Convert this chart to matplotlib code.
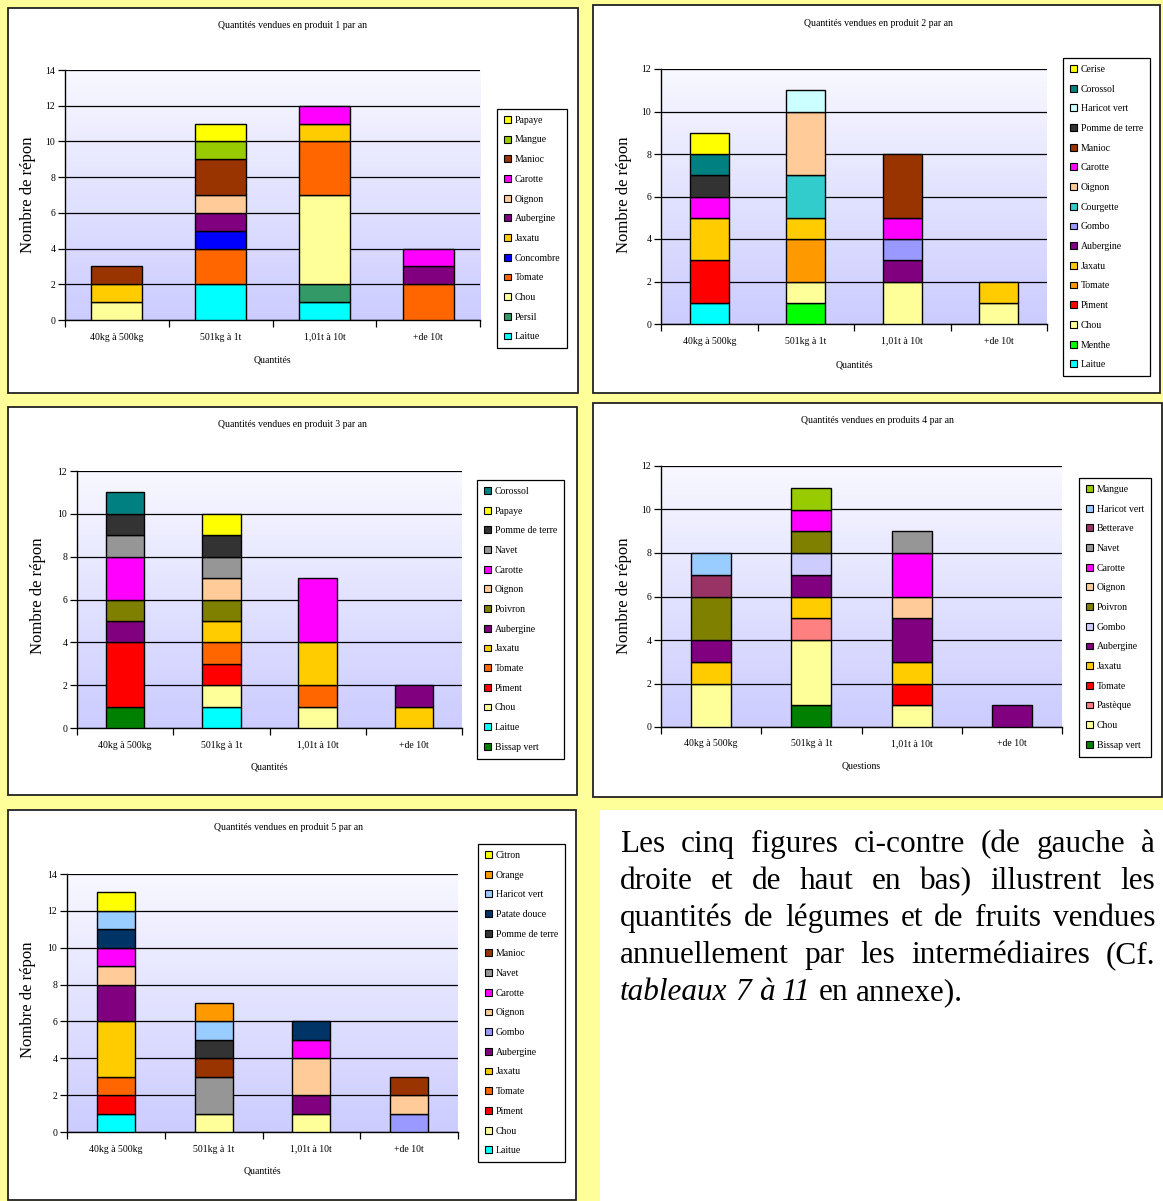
import numpy as np
import matplotlib
matplotlib.use('Agg')
import matplotlib.pyplot as plt
from matplotlib.patches import Rectangle
from matplotlib.colors import LinearSegmentedColormap

plt.rcParams['font.family'] = ['Liberation Serif', 'DejaVu Serif']

W, H = 1163, 1201

cats = ['40kg à 500kg', '501kg à 1t', '1,01t à 10t', '+de 10t']

# produit 1 (series listed bottom -> top of the stack)
p1_names = ['Laitue', 'Persil', 'Chou', 'Tomate', 'Concombre', 'Jaxatu', 'Aubergine',
            'Oignon', 'Carotte', 'Manioc', 'Mangue', 'Papaye']
p1_values = [[0, 2, 1, 0], [0, 0, 1, 0], [1, 0, 5, 0], [0, 2, 3, 2], [0, 1, 0, 0], [1, 0, 1, 0],
             [0, 1, 0, 1], [0, 1, 0, 0], [0, 0, 1, 1], [1, 2, 0, 0], [0, 1, 0, 0], [0, 1, 0, 0]]
p1_colors = ['#00FFFF', '#339966', '#FFFF99', '#FF6600', '#0000FF', '#FFCC00', '#800080',
             '#FFCC99', '#FF00FF', '#993300', '#99CC00', '#FFFF00']

# produit 2
p2_names = ['Laitue', 'Menthe', 'Chou', 'Piment', 'Tomate', 'Jaxatu', 'Aubergine', 'Gombo',
            'Courgette', 'Oignon', 'Carotte', 'Manioc', 'Pomme de terre', 'Haricot vert',
            'Corossol', 'Cerise']
p2_values = [[1, 0, 0, 0], [0, 1, 0, 0], [0, 1, 2, 1], [2, 0, 0, 0], [0, 2, 0, 0], [2, 1, 0, 1],
             [0, 0, 1, 0], [0, 0, 1, 0], [0, 2, 0, 0], [0, 3, 0, 0], [1, 0, 1, 0], [0, 0, 3, 0],
             [1, 0, 0, 0], [0, 1, 0, 0], [1, 0, 0, 0], [1, 0, 0, 0]]
p2_colors = ['#00FFFF', '#00FF00', '#FFFF99', '#FF0000', '#FF9900', '#FFCC00', '#800080',
             '#9999FF', '#33CCCC', '#FFCC99', '#FF00FF', '#993300', '#333333', '#CCFFFF',
             '#008080', '#FFFF00']

# produit 3
p3_names = ['Bissap vert', 'Laitue', 'Chou', 'Piment', 'Tomate', 'Jaxatu', 'Aubergine',
            'Poivron', 'Oignon', 'Carotte', 'Navet', 'Pomme de terre', 'Papaye', 'Corossol']
p3_values = [[1, 0, 0, 0], [0, 1, 0, 0], [0, 1, 1, 0], [3, 1, 0, 0], [0, 1, 1, 0], [0, 1, 2, 1],
             [1, 0, 0, 1], [1, 1, 0, 0], [0, 1, 0, 0], [2, 0, 3, 0], [1, 1, 0, 0], [1, 1, 0, 0],
             [0, 1, 0, 0], [1, 0, 0, 0]]
p3_colors = ['#008000', '#00FFFF', '#FFFF99', '#FF0000', '#FF6600', '#FFCC00', '#800080',
             '#808000', '#FFCC99', '#FF00FF', '#969696', '#333333', '#FFFF00', '#008080']

# produits 4
p4_names = ['Bissap vert', 'Chou', 'Pastèque', 'Tomate', 'Jaxatu', 'Aubergine', 'Gombo',
            'Poivron', 'Oignon', 'Carotte', 'Navet', 'Betterave', 'Haricot vert', 'Mangue']
p4_values = [[0, 1, 0, 0], [2, 3, 1, 0], [0, 1, 0, 0], [0, 0, 1, 0], [1, 1, 1, 0], [1, 1, 2, 1],
             [0, 1, 0, 0], [2, 1, 0, 0], [0, 0, 1, 0], [0, 1, 2, 0], [0, 0, 1, 0], [1, 0, 0, 0],
             [1, 0, 0, 0], [0, 1, 0, 0]]
p4_colors = ['#008000', '#FFFF99', '#FF8080', '#FF0000', '#FFCC00', '#800080', '#CCCCFF',
             '#808000', '#FFCC99', '#FF00FF', '#969696', '#993366', '#99CCFF', '#99CC00']

# produit 5
p5_names = ['Laitue', 'Chou', 'Piment', 'Tomate', 'Jaxatu', 'Aubergine', 'Gombo', 'Oignon',
            'Carotte', 'Navet', 'Manioc', 'Pomme de terre', 'Patate douce', 'Haricot vert',
            'Orange', 'Citron']
p5_values = [[1, 0, 0, 0], [0, 1, 1, 0], [1, 0, 0, 0], [1, 0, 0, 0], [3, 0, 0, 0], [2, 0, 1, 0],
             [0, 0, 0, 1], [1, 0, 2, 1], [1, 0, 1, 0], [0, 2, 0, 0], [0, 1, 0, 1], [0, 1, 0, 0],
             [1, 0, 1, 0], [1, 1, 0, 0], [0, 1, 0, 0], [1, 0, 0, 0]]
p5_colors = ['#00FFFF', '#FFFF99', '#FF0000', '#FF6600', '#FFCC00', '#800080', '#9999FF',
             '#FFCC99', '#FF00FF', '#969696', '#993300', '#333333', '#003366', '#99CCFF',
             '#FF9900', '#FFFF00']

titles = ['Quantités vendues en produit 1 par an', 'Quantités vendues en produit 2 par an',
          'Quantités vendues en produit 3 par an', 'Quantités vendues en produits 4 par an',
          'Quantités vendues en produit 5 par an']
xlabels = ['Quantités', 'Quantités', 'Quantités', 'Questions', 'Quantités']
ymaxes = [14, 12, 12, 12, 14]

para_lines = [
    [('Les cinq figures ci-contre (de gauche à', False)],
    [('droite et de haut en bas) illustrent les', False)],
    [('quantités de légumes et de fruits vendues', False)],
    [('annuellement par les intermédiaires (Cf.', False)],
    [('tableaux 7 à 11', True), ('en annexe).', False)],
]

# layout in pixels (top-left origin)
panels = [
    dict(frame=(8, 8, 578, 393), axes=(65, 70, 480, 320), legend=(497, 109), width=0.49,
         title=(293, 26), xlab=(272, 360), ylab=(28, 195)),
    dict(frame=(593, 5, 1160, 393), axes=(661, 69, 1047, 324), legend=(1063, 58), width=0.40,
         title=(878, 24), xlab=(854, 365), ylab=(624, 195)),
    dict(frame=(8, 407, 577, 795), axes=(77, 471, 462, 728), legend=(477, 480), width=0.40,
         title=(292, 425), xlab=(269, 767), ylab=(38, 596)),
    dict(frame=(593, 403, 1162, 797), axes=(661, 466, 1062, 727), legend=(1079, 478), width=0.40,
         title=(877, 420), xlab=(861, 766), ylab=(624, 596)),
    dict(frame=(8, 810, 576, 1200), axes=(67, 874, 458, 1132), legend=(478, 844), width=0.39,
         title=(288, 828), xlab=(262, 1171), ylab=(28, 1000)),
]
data = [(p1_names, p1_values, p1_colors), (p2_names, p2_values, p2_colors),
        (p3_names, p3_values, p3_colors), (p4_names, p4_values, p4_colors),
        (p5_names, p5_values, p5_colors)]


def fx(px):
    return px / W


def fy(py):
    return 1 - py / H


fig = plt.figure(figsize=(W / 100, H / 100), dpi=100)
fig.patch.set_facecolor('#FFFF99')

grad = np.linspace(0, 1, 256).reshape(-1, 1)
cmap = LinearSegmentedColormap.from_list('fond', ['#F8F8FF', '#CCCCFF'])

for i, (lay, (names, values, colors)) in enumerate(zip(panels, data)):
    x0, y0, x1, y1 = lay['frame']
    fig.add_artist(Rectangle((fx(x0), fy(y1)), (x1 - x0) / W, (y1 - y0) / H,
                             transform=fig.transFigure, facecolor='white',
                             edgecolor='#222222', lw=1.3, zorder=-1))
    a0, b0, a1, b1 = lay['axes']
    ax = fig.add_axes([fx(a0), fy(b1), (a1 - a0) / W, (b1 - b0) / H])
    ax.patch.set_alpha(0)
    ax.imshow(grad, extent=[0, 1, 0, 1], transform=ax.transAxes, cmap=cmap,
              aspect='auto', zorder=0)

    x = np.arange(len(cats))
    bottom = np.zeros(len(cats))
    handles = []
    for name, vals, c in zip(names, values, colors):
        vals = np.array(vals, float)
        m = vals > 0
        ax.bar(x[m], vals[m], lay['width'], bottom=bottom[m], color=c,
               edgecolor='black', lw=1, zorder=3)
        bottom += vals
        handles.append(Rectangle((0, 0), 1, 1, facecolor=c, edgecolor='black', lw=0.8))

    ax.set_xlim(-0.5, len(cats) - 0.5)
    ax.set_ylim(0, ymaxes[i])
    ax.set_yticks(np.arange(0, ymaxes[i] + 1, 2))
    ax.yaxis.grid(True, color='black', lw=0.9)
    ax.set_axisbelow(True)
    ax.set_xticks(np.arange(-0.5, len(cats), 1))
    ax.set_xticklabels([])
    ax.set_xticks(x, minor=True)
    ax.set_xticklabels(cats, minor=True)
    ax.tick_params(axis='x', which='major', length=5, width=0.9, direction='out')
    ax.tick_params(axis='x', which='minor', length=0, pad=9, labelsize=7)
    ax.tick_params(axis='y', length=5, width=0.9, pad=2, labelsize=7)
    for s in ['top', 'right']:
        ax.spines[s].set_visible(False)
    for s in ['left', 'bottom']:
        ax.spines[s].set_color('black')
        ax.spines[s].set_linewidth(1)

    lx, ly = lay['legend']
    leg = ax.legend(handles[::-1], names[::-1], loc='upper left',
                    bbox_to_anchor=(fx(lx), fy(ly)), bbox_transform=fig.transFigure,
                    fontsize=7, frameon=True, fancybox=False, framealpha=1,
                    edgecolor='black', handlelength=0.7, handleheight=0.7,
                    handletextpad=0.45, labelspacing=1.1, borderpad=0.7,
                    borderaxespad=0)
    leg.get_frame().set_linewidth(0.9)

    tx, ty = lay['title']
    fig.text(fx(tx), fy(ty), titles[i], fontsize=7, ha='center', va='center')
    tx, ty = lay['xlab']
    fig.text(fx(tx), fy(ty), xlabels[i], fontsize=7, ha='center', va='center')
    tx, ty = lay['ylab']
    fig.text(fx(tx), fy(ty), 'Nombre de répon', fontsize=12, rotation=90,
             ha='center', va='center')

# text block at bottom right
fig.add_artist(Rectangle((fx(600), fy(1201)), (1163 - 600) / W, (1201 - 810) / H,
                         transform=fig.transFigure, facecolor='white', edgecolor='none',
                         zorder=-1))
renderer = fig.canvas.get_renderer()
left, right = 620, 1155
fs = 22.5
space = 0.25 * fs * 100 / 72
for i, parts in enumerate(para_lines):
    yb = fy(852 + 37 * i)
    words = []
    for txt, ital in parts:
        for w in txt.split():
            words.append((w, ital))
    arts = [fig.text(0, yb, w, fontsize=fs, style='italic' if it else 'normal',
                     va='baseline', ha='left') for w, it in words]
    widths = [a.get_window_extent(renderer).width for a in arts]
    last = i == len(para_lines) - 1
    gap = space if last else (right - left - sum(widths)) / (len(words) - 1)
    xp = left
    for a, wd in zip(arts, widths):
        a.set_x(fx(xp))
        xp += wd + gap

fig.savefig('out.png', dpi=100, facecolor=fig.get_facecolor())
